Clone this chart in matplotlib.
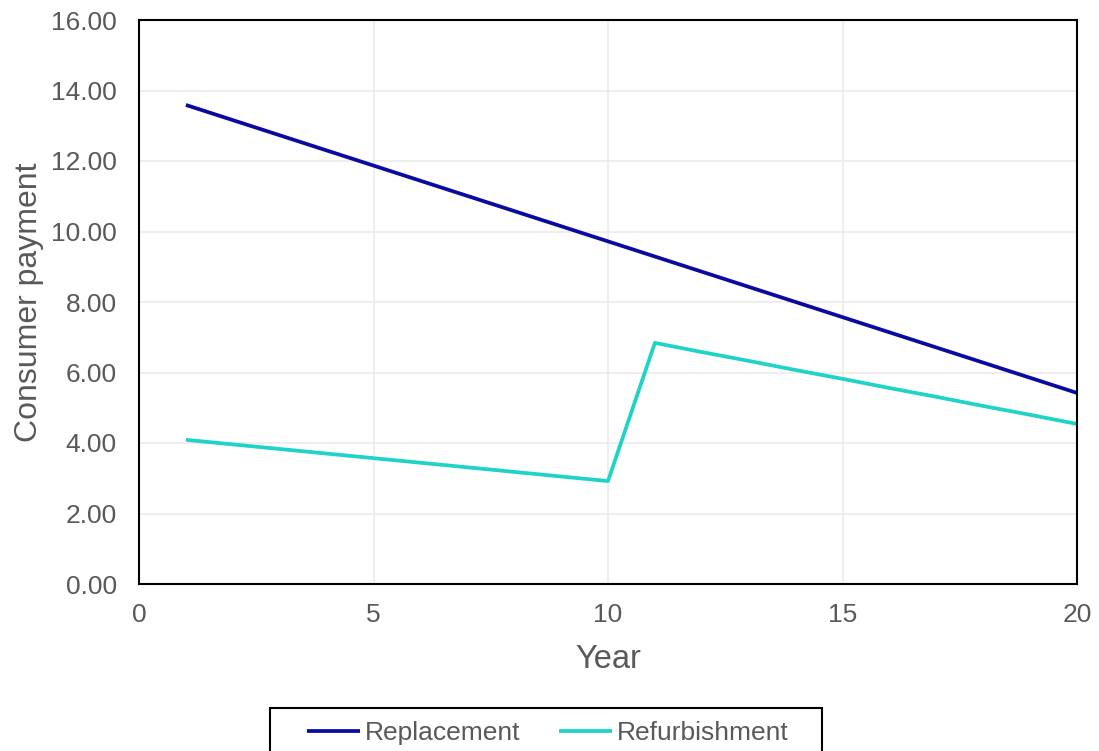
import matplotlib.pyplot as plt
from matplotlib.patches import Rectangle

plt.rcParams['font.family'] = ['Liberation Sans', 'DejaVu Sans']

years = list(range(1, 21))
replacement = [13.59, 13.16, 12.73, 12.30, 11.87, 11.44, 11.01, 10.58, 10.15, 9.72,
               9.29, 8.86, 8.43, 8.00, 7.57, 7.14, 6.71, 6.28, 5.85, 5.42]
refurbishment = [4.09, 3.96, 3.83, 3.70, 3.57, 3.44, 3.31, 3.18, 3.05, 2.92,
                 6.84, 6.58, 6.33, 6.07, 5.82, 5.56, 5.31, 5.05, 4.80, 4.54]

grey = '#595959'
W, H = 1099, 751

fig = plt.figure(figsize=(W/100, H/100), dpi=100)
ax = fig.add_axes([139/W, 1 - 584/H, (1077-139)/W, (584-20)/H])

ax.plot(years, replacement, color='#0A0AA0', lw=2.7, label='Replacement', solid_capstyle='butt')
ax.plot(years, refurbishment, color='#1FD3C6', lw=2.7, label='Refurbishment', solid_capstyle='butt')

ax.set_xlim(0, 20)
ax.set_ylim(0, 16)
ax.set_xticks([0, 5, 10, 15, 20])
ax.set_yticks(range(0, 17, 2))
ax.set_yticklabels([f'{v:.2f}' for v in range(0, 17, 2)])
ax.grid(True, color='#EBEBEB', lw=1.2)
ax.set_axisbelow(True)
for s in ax.spines.values():
    s.set_color('black')
    s.set_linewidth(1.5)
ax.tick_params(length=0, labelsize=19, colors=grey)
ax.tick_params(axis='y', pad=16)
ax.tick_params(axis='x', pad=14)

ax.set_xlabel('Year', fontsize=23.5, color=grey, labelpad=12)
ax.set_ylabel('Consumer payment', fontsize=23, color=grey, labelpad=5)

# legend entries without frame, box drawn separately (runs off the bottom edge)
leg = fig.legend(loc='center', bbox_to_anchor=(548/W, 1 - 733/H), ncol=2,
                 fontsize=19, frameon=False,
                 handlelength=2.0, handletextpad=0.2, columnspacing=1.45,
                 borderpad=0, borderaxespad=0, labelcolor=grey)
fig.patches.append(Rectangle((270/W, -0.02), 552/W, 0.02 + 1 - 708/H,
                             transform=fig.transFigure, fill=False,
                             edgecolor='black', lw=1.5))

fig.savefig('out.png', dpi=100)
